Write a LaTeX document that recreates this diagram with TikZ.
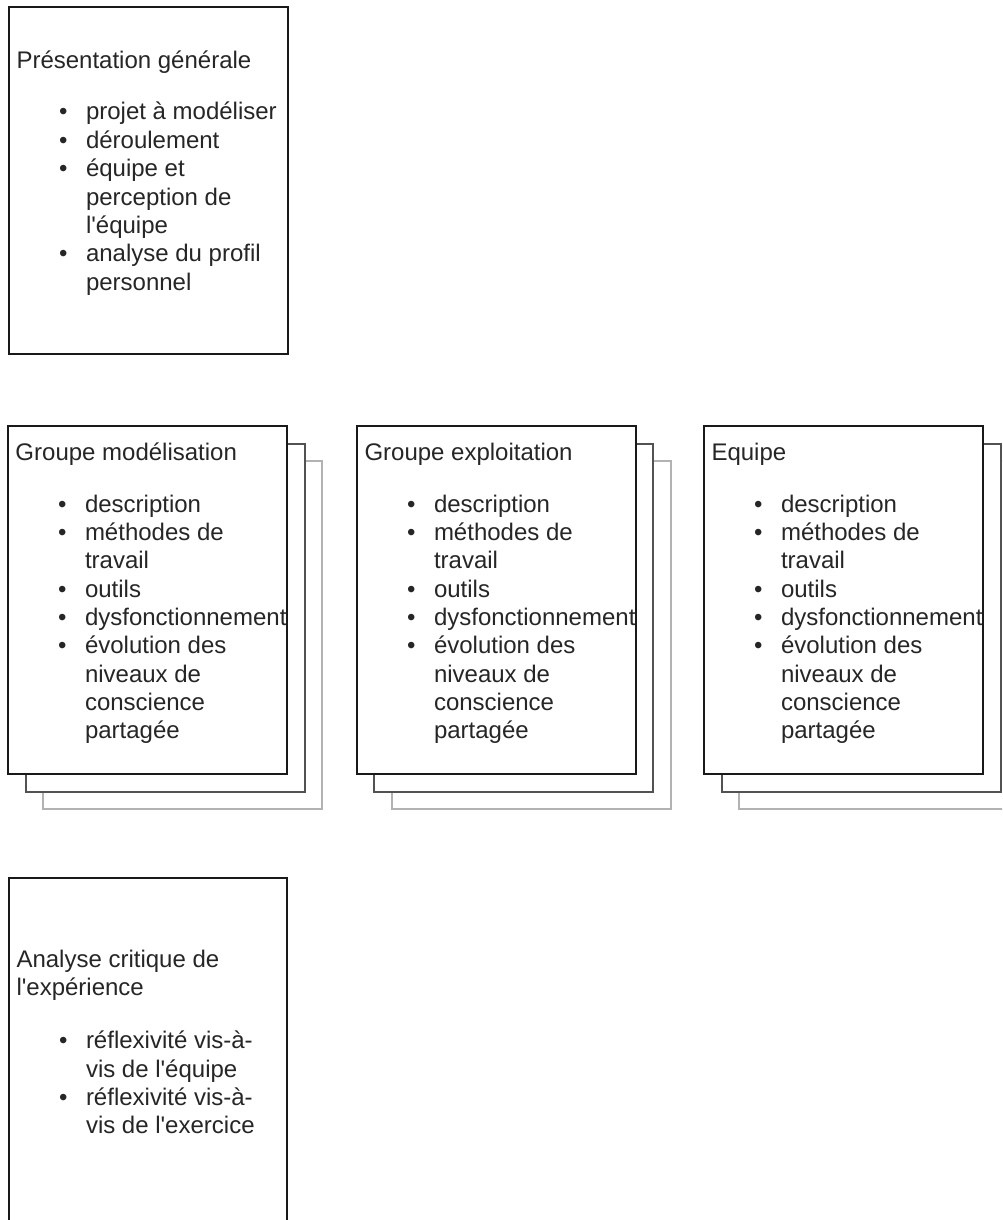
\documentclass[tikz,border=0pt]{standalone}
\usepackage{fontspec}
% plain family without TeX ligatures, so that ' stays a straight apostrophe
\newfontfamily\uisans{Liberation Sans}
\begin{document}
\begin{tikzpicture}[x=1pt,y=-1pt,
  sheet/.style={draw=black!90, line width=1.3pt, fill=white, anchor=north west,
                minimum width=279pt, minimum height=348pt, inner sep=0pt, outer sep=0pt},
  sheetmid/.style={sheet, draw=black!68},
  sheetback/.style={sheet, draw=black!30, line width=1.2pt},
  txt/.style={anchor=base west, inner sep=0pt, outer sep=0pt, text=black!85,
              font=\uisans\fontsize{24}{28}\selectfont},
]
\newcommand\tline[4]{\node[txt] (#1) at (#2,#3) {#4};}
\newcommand\tbullet[3]{\node[txt] (#1) at (#2,#3) {\textbullet};}

\fill[white] (0,0) rectangle (1002,1220);
\path[clip] (0,0) rectangle (1002,1220);

% ---- general presentation
\node[sheet, minimum height=347pt] (pres) at (9,7) {};
\tline{presT}{16.5}{69}{Présentation générale}
\tbullet{presB1}{59}{120}
\tline{presL1}{86}{120}{projet à modéliser}
\tbullet{presB2}{59}{148.3}
\tline{presL2}{86}{148.3}{déroulement}
\tbullet{presB3}{59}{176.7}
\tline{presL3}{86}{176.7}{équipe et}
\tline{presL4}{86}{205}{perception de}
\tline{presL5}{86}{233.3}{l'équipe}
\tbullet{presB4}{59}{261.7}
\tline{presL6}{86}{261.7}{analyse du profil}
\tline{presL7}{86}{290}{personnel}

% ---- three stacked sheets
\node[sheetback] (modC) at (43,461) {};
\node[sheetmid]  (modB) at (26,444) {};
\node[sheet]     (modA) at (8,426) {};

\node[sheetback] (expC) at (392,461) {};
\node[sheetmid]  (expB) at (374,444) {};
\node[sheet]     (expA) at (357,426) {};

\node[sheetback] (eqC) at (739,461) {};
\node[sheetmid]  (eqB) at (722,444) {};
\node[sheet]     (eqA) at (704,426) {};

\tline{modT}{15.5}{460}{Groupe modélisation}
\tline{expT}{364.5}{460}{Groupe exploitation}
\tline{eqT}{711.5}{460}{Equipe}

\foreach \g/\bx/\tx in {mod/58/85, exp/407/434, eq/754/781}{
  \tbullet{\g B1}{\bx}{512}
  \tline{\g L1}{\tx}{512}{description}
  \tbullet{\g B2}{\bx}{540.3}
  \tline{\g L2}{\tx}{540.3}{méthodes de}
  \tline{\g L3}{\tx}{568.7}{travail}
  \tbullet{\g B3}{\bx}{597}
  \tline{\g L4}{\tx}{597}{outils}
  \tbullet{\g B4}{\bx}{625.3}
  \tline{\g L5}{\tx}{625.3}{dysfonctionnement}
  \tbullet{\g B5}{\bx}{653.7}
  \tline{\g L6}{\tx}{653.7}{évolution des}
  \tline{\g L7}{\tx}{682}{niveaux de}
  \tline{\g L8}{\tx}{710.3}{conscience}
  \tline{\g L9}{\tx}{738.7}{partagée}
}

% ---- critical analysis
\node[sheet, minimum width=278pt, minimum height=360pt] (crit) at (9,878) {};
\tline{critT1}{16.5}{967}{Analyse critique de}
\tline{critT2}{16.5}{995.3}{l'expérience}
\tbullet{critB1}{59}{1048.7}
\tline{critL1}{86}{1048.7}{réflexivité vis-à-}
\tline{critL2}{86}{1077}{vis de l'équipe}
\tbullet{critB2}{59}{1105.3}
\tline{critL3}{86}{1105.3}{réflexivité vis-à-}
\tline{critL4}{86}{1133.7}{vis de l'exercice}
\end{tikzpicture}
\end{document}
